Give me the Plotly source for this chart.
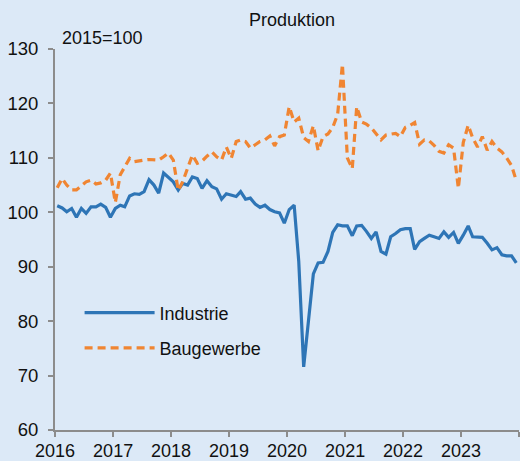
import pandas as pd
import plotly.graph_objects as go

# Monthly index values, 2015=100, Jan 2016 - Dec 2023
industrie = [
    101.2, 100.8, 100.1, 100.7, 99.1, 100.7, 99.8, 101.0, 101.0, 101.5, 100.9, 99.1,   # 2016
    100.7, 101.3, 101.0, 103.0, 103.4, 103.3, 103.8, 106.0, 105.0, 103.5, 107.2, 106.5,  # 2017
    105.6, 104.1, 105.3, 105.0, 106.5, 106.2, 104.4, 105.8, 104.7, 104.3, 102.4, 103.4,  # 2018
    103.2, 102.9, 103.8, 102.4, 102.6, 101.5, 100.9, 101.3, 100.5, 100.1, 99.9, 98.0,    # 2019
    100.5, 101.3, 91.0, 71.6, 80.0, 88.7, 90.7, 90.8, 92.8, 96.3, 97.7, 97.5,            # 2020
    97.5, 95.7, 97.5, 97.6, 96.5, 95.2, 96.4, 92.8, 92.3, 95.5, 96.1, 96.8,              # 2021
    97.0, 97.0, 93.2, 94.6, 95.2, 95.8, 95.5, 95.2, 96.4, 95.4, 96.3, 94.3,              # 2022
    95.8, 97.5, 95.5, 95.5, 95.4, 94.3, 93.1, 93.5, 92.2, 92.0, 92.0, 90.7,              # 2023
]
baugewerbe = [
    104.5, 106.2, 105.0, 104.1, 104.1, 104.8, 105.6, 105.9, 105.2, 105.4, 105.9, 107.2,  # 2016
    101.8, 106.9, 108.4, 109.9, 109.3, 109.5, 109.6, 109.7, 109.6, 109.6, 110.2, 110.9,  # 2017
    109.6, 104.0, 105.6, 108.0, 110.5, 109.0, 109.4, 110.3, 111.1, 110.2, 109.6, 112.0,  # 2018
    109.9, 113.0, 113.3, 113.0, 111.8, 112.4, 113.0, 113.3, 114.0, 112.2, 113.9, 114.2,  # 2019
    119.4, 116.6, 117.3, 113.7, 113.0, 115.9, 111.3, 113.9, 114.4, 115.6, 118.0, 127.2,  # 2020
    110.0, 108.0, 119.4, 116.6, 116.2, 115.5, 114.5, 113.3, 114.2, 114.4, 114.5, 113.9,  # 2021
    115.6, 116.0, 116.5, 112.5, 113.3, 113.1, 112.3, 111.2, 110.9, 112.4, 111.8, 104.4,  # 2022
    112.8, 116.0, 113.7, 112.0, 113.9, 111.4, 113.0, 111.8, 111.1, 110.0, 108.6, 105.8,  # 2023
]
months = pd.date_range("2016-01-01", periods=len(industrie), freq="MS") + pd.Timedelta(days=14)
year_ticks = [str(y) for y in range(2016, 2025)]
year_labels = [str(y) for y in range(2016, 2024)] + [""]
y_ticks = [60, 70, 80, 90, 100, 110, 120, 130]

BLUE = "#2e75b6"
ORANGE = "#f08532"
BG = "#dce9f7"
AXIS = "#8c8c8c"
FONT = "Liberation Sans, Arial, sans-serif"

fig = go.Figure()
fig.add_trace(go.Scatter(x=months, y=industrie, mode="lines", name="Industrie",
                         legendgroup="a",
                         line=dict(color=BLUE, width=3.2)))
fig.add_trace(go.Scatter(x=months, y=baugewerbe, mode="lines", name="Baugewerbe",
                         legendgroup="b",
                         line=dict(color=ORANGE, width=3.2, dash="8px,5px")))

fig.update_layout(
    width=520, height=461,
    margin=dict(l=55, r=1, t=49, b=31, autoexpand=False),
    paper_bgcolor=BG, plot_bgcolor=BG,
    font=dict(family=FONT, size=18, color="#111111"),
    showlegend=True,
    legend=dict(x=0.053, y=0.356, xanchor="left", yanchor="top",
                bgcolor="rgba(0,0,0,0)", font=dict(size=18),
                itemwidth=70, tracegroupgap=9),
)
fig.add_annotation(text="Produktion", xref="paper", yref="paper", x=0.51, y=1.076,
                   xanchor="center", yanchor="middle", showarrow=False,
                   font=dict(size=18))
fig.add_annotation(text="2015=100", xref="paper", yref="paper", x=0.01, y=1.03,
                   xanchor="left", yanchor="middle", showarrow=False,
                   font=dict(size=18))

fig.update_xaxes(
    type="date", range=["2016-01-01", "2024-01-01"],
    tickvals=[f"{y}-01-01" for y in year_ticks], ticktext=year_labels,
    ticks="outside", ticklen=5, tickwidth=2, tickcolor=AXIS,
    showline=True, linecolor=AXIS, linewidth=2, showgrid=False, zeroline=False,
    tickfont=dict(size=18), automargin=False, ticklabelstandoff=-2,
)
fig.update_yaxes(
    range=[60, 130], tickvals=y_ticks,
    ticks="outside", ticklen=5, tickwidth=2, tickcolor=AXIS,
    showline=True, linecolor=AXIS, linewidth=2, showgrid=False, zeroline=False,
    tickfont=dict(size=18.5), automargin=False, ticklabelstandoff=6,
)

fig.write_html("out.html", config={"displayModeBar": False},
               post_script="document.body.style.margin='0';document.body.style.overflow='hidden';")
